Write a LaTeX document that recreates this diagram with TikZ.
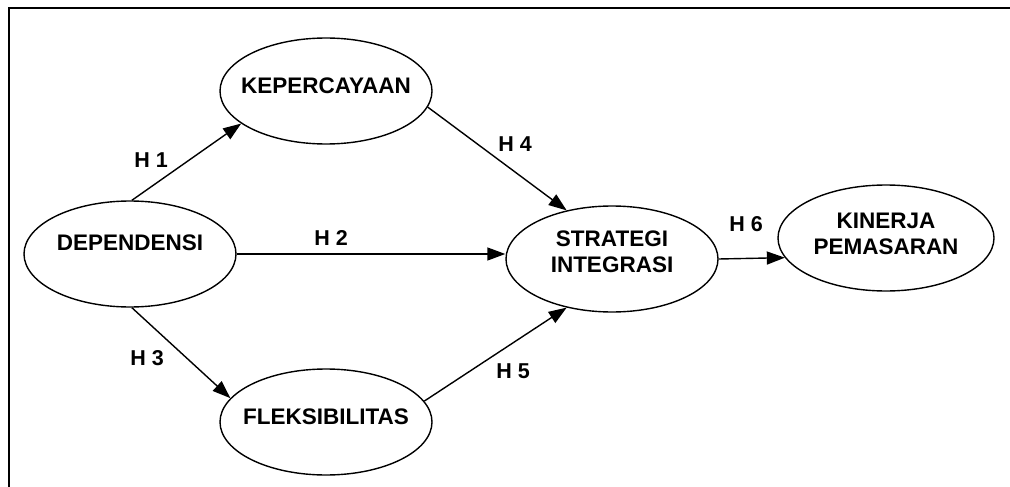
\documentclass[tikz,border=0pt]{standalone}
\usepackage{fontspec}
\setmainfont{Liberation Sans}
\usetikzlibrary{shapes.geometric,arrows.meta}
\begin{document}
\begin{tikzpicture}[x=1pt,y=-1pt,
  var/.style={ellipse,draw,line width=1.4pt,inner sep=0pt,
    minimum width=212pt,minimum height=106pt},
  vartext/.style={align=center,inner sep=0pt,
    font=\fontsize{22.5}{26}\selectfont\bfseries},
  link/.style={line width=1.4pt,-{Triangle[length=18pt,width=13pt]}},
  hyp/.style={font=\fontsize{21.5}{24}\selectfont\bfseries,inner sep=0pt}]
\useasboundingbox (0,0) rectangle (1010,487);
% open frame: only the top and left edges fall inside the page
\draw[line width=1.5pt] (9,487) -- (9,8) -- (1010,8);

% latent variables; the caption sits a little above each centre
\node[var,label={[vartext,yshift=11pt]center:DEPENDENSI}] (dep) at (130,254) {};
\node[var,label={[vartext,yshift=5pt]center:KEPERCAYAAN}] (kep) at (326,91) {};
\node[var,label={[vartext,yshift=5pt]center:FLEKSIBILITAS}] (fle) at (326,422) {};
\node[var,label={[vartext,yshift=7pt]center:STRATEGI\\INTEGRASI}] (str) at (612,259) {};
\node[var,minimum width=216pt,label={[vartext,yshift=4pt]center:KINERJA\\PEMASARAN}] (kin) at (886,238) {};

\draw[link] (dep.88) -- (kep.201);
\draw[link] (dep.east) -- (dep.east -| str.west);
\draw[link] (dep.-88) -- (fle.166);
\draw[link] (kep.-9) -- (str.133);
\draw[link] (fle.12) -- (str.-133);
\draw[link] (str.east) -- (kin.191);

\node[hyp] (h1) at (151,160) {H 1};
\node[hyp] (h2) at (331,238) {H 2};
\node[hyp] (h3) at (147,358) {H 3};
\node[hyp] (h4) at (515,144) {H 4};
\node[hyp] (h5) at (513,371) {H 5};
\node[hyp] (h6) at (746,224) {H 6};
\end{tikzpicture}
\end{document}
